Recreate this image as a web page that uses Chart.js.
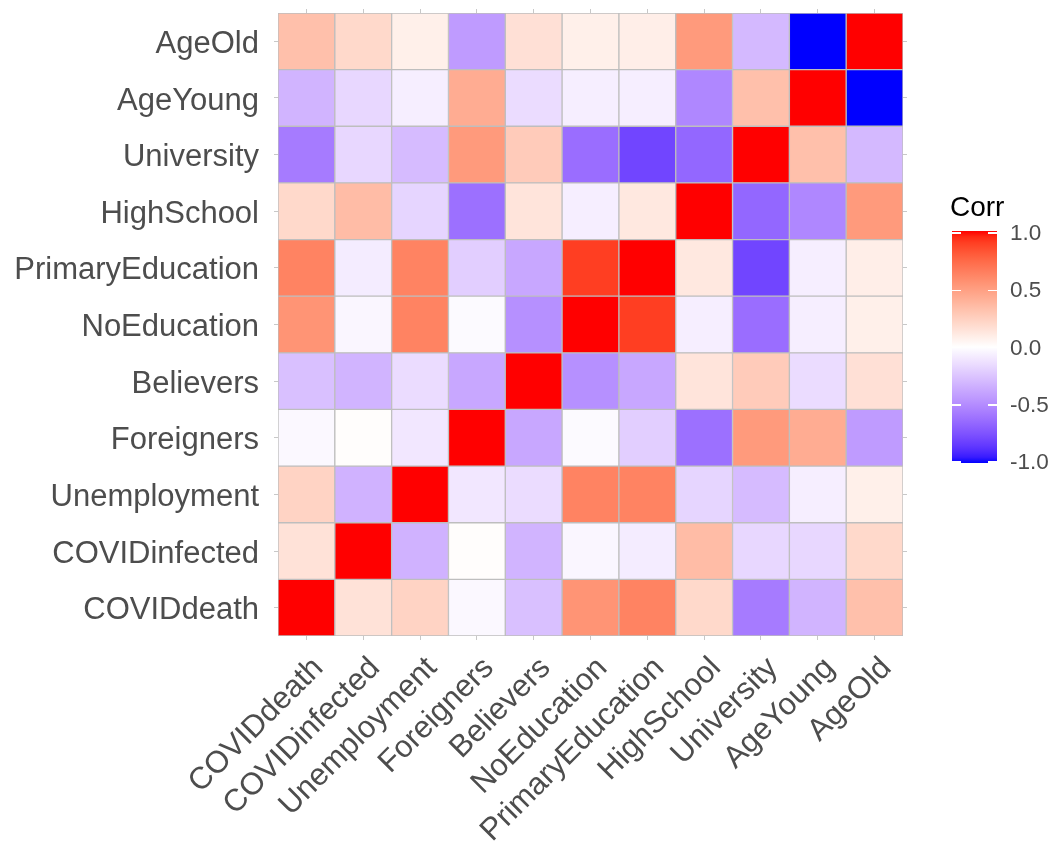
<!DOCTYPE html>
<html>
<head>
<meta charset="utf-8">
<title>Corr heatmap</title>
<script src="https://cdn.jsdelivr.net/npm/chart.js@4.4.1/dist/chart.umd.min.js"></script>
<style>
  body { margin: 0; background: #fff; }
  #wrap { position: relative; width: 1055px; height: 847px; font-family: "Liberation Sans", Arial, sans-serif; }
  #corrChart { position: absolute; left: 0; top: 0; }
  .legend-title { position: absolute; left: 950px; top: 193px; font-size: 28px; line-height: 28px; color: #000; }
  .legend-bar { position: absolute; left: 952px; top: 231px; width: 45px; height: 232px; }
  .legend-tick { position: absolute; width: 9px; height: 1.5px; background: #fff; }
  .legend-label { position: absolute; left: 1010px; font-size: 22.5px; line-height: 22px; color: #4d4d4d; transform: translateY(-50%); }
</style>
</head>
<body>
<div id="wrap">
  <canvas id="corrChart" width="1055" height="847"></canvas>
  <div id="legend"></div>
</div>
<script>
// ── Data ─────────────────────────────────────────────────────
const variables = ['COVIDdeath', 'COVIDinfected', 'Unemployment', 'Foreigners', 'Believers',
  'NoEducation', 'PrimaryEducation', 'HighSchool', 'University', 'AgeYoung', 'AgeOld'];

// one row per variable, columns in the same order as `variables`
const rowCOVIDdeath       = [1, 0.15, 0.23, -0.03, -0.27, 0.55, 0.63, 0.2, -0.57, -0.32, 0.33];
const rowCOVIDinfected    = [0.15, 1, -0.33, 0.01, -0.32, -0.04, -0.08, 0.35, -0.17, -0.17, 0.2];
const rowUnemployment     = [0.23, -0.33, 1, -0.1, -0.15, 0.63, 0.63, -0.18, -0.29, -0.07, 0.08];
const rowForeigners       = [-0.03, 0.01, -0.1, 1, -0.38, -0.02, -0.21, -0.62, 0.52, 0.43, -0.43];
const rowBelievers        = [-0.27, -0.32, -0.15, -0.38, 1, -0.48, -0.38, 0.14, 0.27, -0.15, 0.16];
const rowNoEducation      = [0.55, -0.04, 0.63, -0.02, -0.48, 1, 0.9, -0.07, -0.63, -0.07, 0.08];
const rowPrimaryEducation = [0.63, -0.08, 0.63, -0.21, -0.38, 0.9, 1, 0.12, -0.8, -0.07, 0.09];
const rowHighSchool       = [0.2, 0.35, -0.18, -0.62, 0.14, -0.07, 0.12, 1, -0.66, -0.52, 0.52];
const rowUniversity       = [-0.57, -0.17, -0.29, 0.52, 0.27, -0.63, -0.8, -0.66, 1, 0.33, -0.3];
const rowAgeYoung         = [-0.32, -0.17, -0.07, 0.43, -0.15, -0.07, -0.07, -0.52, 0.33, 1, -1];
const rowAgeOld           = [0.33, 0.2, 0.08, -0.43, 0.16, 0.08, 0.09, 0.52, -0.3, -1, 1];

const corrRows = [rowCOVIDdeath, rowCOVIDinfected, rowUnemployment, rowForeigners, rowBelievers,
  rowNoEducation, rowPrimaryEducation, rowHighSchool, rowUniversity, rowAgeYoung, rowAgeOld];

const legendTicks = [1.0, 0.5, 0.0, -0.5, -1.0];

// ── Colour scale (blue - white - red, mixed in Lab like ggplot) ──
function toLinear(c) { c /= 255; return c <= 0.04045 ? c / 12.92 : Math.pow((c + 0.055) / 1.055, 2.4); }
function toByte(c) {
  c = c <= 0.0031308 ? 12.92 * c : 1.055 * Math.pow(c, 1 / 2.4) - 0.055;
  return Math.round(Math.max(0, Math.min(1, c)) * 255);
}
function rgbToLab(rgb) {
  const [r, g, b] = rgb.map(toLinear);
  const x = (0.4124564 * r + 0.3575761 * g + 0.1804375 * b) / 0.95047;
  const y = (0.2126729 * r + 0.7151522 * g + 0.0721750 * b);
  const z = (0.0193339 * r + 0.1191920 * g + 0.9503041 * b) / 1.08883;
  const f = t => t > 0.008856 ? Math.cbrt(t) : 7.787 * t + 16 / 116;
  return [116 * f(y) - 16, 500 * (f(x) - f(y)), 200 * (f(y) - f(z))];
}
function labToRgb([L, a, bb]) {
  const fy = (L + 16) / 116, fx = fy + a / 500, fz = fy - bb / 200;
  const inv = t => t * t * t > 0.008856 ? t * t * t : (t - 16 / 116) / 7.787;
  const x = inv(fx) * 0.95047, y = inv(fy), z = inv(fz) * 1.08883;
  return [
     3.2404542 * x - 1.5371385 * y - 0.4985314 * z,
    -0.9692660 * x + 1.8760108 * y + 0.0415560 * z,
     0.0556434 * x - 0.2040259 * y + 1.0572252 * z
  ].map(toByte);
}
const LAB_LOW  = rgbToLab([0, 0, 255]);
const LAB_MID  = rgbToLab([255, 255, 255]);
const LAB_HIGH = rgbToLab([255, 0, 0]);

function corrColor(v) {
  const end = v < 0 ? LAB_LOW : LAB_HIGH;
  const t = Math.min(1, Math.abs(v));
  const [r, g, b] = labToRgb(LAB_MID.map((m, k) => m + (end[k] - m) * t));
  return `rgb(${r},${g},${b})`;
}

// ── Legend (colour bar) ──────────────────────────────────────
function renderLegend() {
  const el = document.getElementById('legend');
  const stops = [];
  for (let k = 0; k <= 40; k++) {
    const v = 1 - k / 20;
    stops.push(`${corrColor(v)} ${(k / 40 * 100).toFixed(2)}%`);
  }
  const tickY = v => 347.5 - v * 114.5;
  el.innerHTML = `
    <div class="legend-title">Corr</div>
    <div class="legend-bar" style="background:linear-gradient(to bottom, ${stops.join(',')});"></div>
    ${legendTicks.map(v => `
      <div class="legend-tick" style="left:952px;top:${tickY(v) - 0.75}px;"></div>
      <div class="legend-tick" style="left:988px;top:${tickY(v) - 0.75}px;"></div>
      <div class="legend-label" style="top:${tickY(v)}px;">${v.toFixed(1)}</div>`).join('')}`;
}

// ── Heatmap ──────────────────────────────────────────────────
const rowTicks = axis => { axis.ticks = variables.map((_, i) => ({ value: i })); };
const noPadY = (axis, width) => { axis.width = width; axis.paddingTop = 0; axis.paddingBottom = 0; };
const noPadX = (axis, height) => { axis.height = height; axis.paddingLeft = 0; axis.paddingRight = 0; };
const axisFont = { family: '"Liberation Sans", Arial, sans-serif', size: 31 };
const tickGrid = { drawOnChartArea: false, offset: false, tickLength: 4, color: '#c8c8c8' };

const datasets = variables.map((name, i) => ({
  label: name,
  data: variables.map(() => [i - 0.5, i + 0.5]),
  backgroundColor: corrRows[i].map(corrColor),
  borderColor: '#bebebe',
  borderWidth: 1,
  borderSkipped: false,
  grouped: false,
  barPercentage: 1,
  categoryPercentage: 1
}));

new Chart(document.getElementById('corrChart'), {
  type: 'bar',
  data: { labels: variables, datasets },
  options: {
    responsive: false,
    animation: false,
    layout: { padding: 0 },
    plugins: { legend: { display: false }, tooltip: { enabled: false } },
    events: [],
    scales: {
      x: {
        grid: tickGrid,
        border: { display: false },
        ticks: {
          autoSkip: false, minRotation: 45, maxRotation: 45,
          color: '#4d4d4d', font: axisFont, padding: 10, labelOffset: 12
        },
        afterFit: s => noPadX(s, 211)
      },
      x2: {
        type: 'category', labels: variables, position: 'top', offset: true,
        grid: tickGrid, border: { display: false }, ticks: { display: false },
        afterFit: s => noPadX(s, 13)
      },
      y: {
        type: 'linear', min: -0.5, max: 10.5,
        afterBuildTicks: rowTicks,
        grid: tickGrid,
        border: { display: false },
        ticks: { color: '#4d4d4d', font: axisFont, padding: 15, labelOffset: 3, callback: v => variables[v] },
        afterFit: s => noPadY(s, 278)
      },
      y2: {
        type: 'linear', position: 'right', min: -0.5, max: 10.5,
        afterBuildTicks: rowTicks,
        grid: tickGrid, border: { display: false }, ticks: { display: false },
        afterFit: s => noPadY(s, 152)
      }
    }
  }
});

renderLegend();
</script>
</body>
</html>
